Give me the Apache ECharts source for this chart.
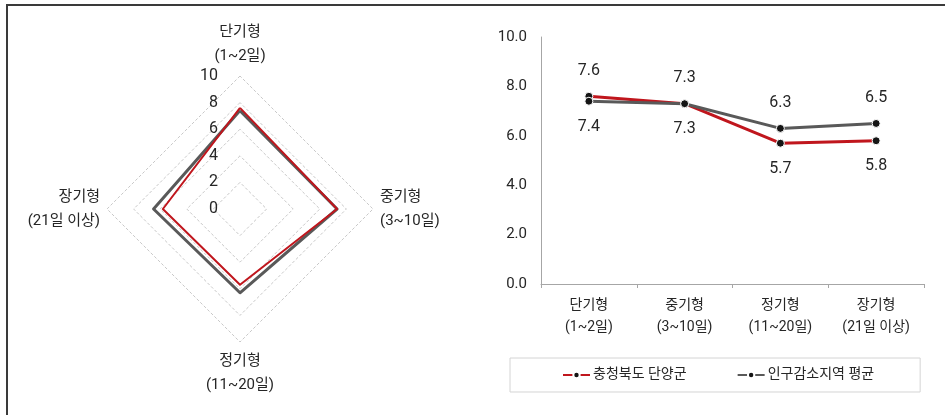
<!DOCTYPE html>
<html>
<head>
<meta charset="utf-8">
<script src="https://cdn.jsdelivr.net/npm/echarts@6/dist/echarts.min.js"></script>
<style>
  html, body { margin: 0; padding: 0; background: #fff; }
  #chart { width: 945px; height: 415px; }
</style>
</head>
<body>
<div id="chart"></div>
<script>
// Stay-length types (categories)
const categories = ['단기형\n(1~2일)', '중기형\n(3~10일)', '정기형\n(11~20일)', '장기형\n(21일 이상)'];
// Series
const seriesNames = ['충청북도 단양군', '인구감소지역 평균'];
const danyang = [7.6, 7.3, 5.7, 5.8];
const regionAvg = [7.4, 7.3, 6.3, 6.5];
// Label placement for each point (above / below the marker)
const danyangLabelPos = ['top', 'top', 'bottom', 'bottom'];
const regionAvgLabelPos = ['bottom', 'bottom', 'top', 'top'];
// Axis ranges
const radarMax = 10;
const lineMax = 10;
const tickStep = 2;

const RED = '#c0161d';
const GRAY = '#595959';
const FONT = 'Roboto, "Noto Sans CJK KR", sans-serif';
const TEXT = '#262626';

// Radar axes run counter-clockwise, so walk the categories in reverse
// after the first one to lay them out clockwise from the top.
const radarOrder = [0, 3, 2, 1];
const byRadarOrder = arr => radarOrder.map(i => arr[i]);

const chart = echarts.init(document.getElementById('chart'), null, { renderer: 'canvas' });

function pointData(values, positions) {
  return values.map((v, i) => ({
    value: v,
    label: { position: positions[i] }
  }));
}

const indicators = byRadarOrder(categories).map((c, i) => {
  const ind = { name: c, max: radarMax, min: 0 };
  if (i === 0) {
    ind.axisLabel = {
      show: true, color: TEXT, fontSize: 16, fontFamily: FONT, margin: 22,
      showMinLabel: true, showMaxLabel: true
    };
  }
  return ind;
});

const option = {
  animation: false,
  textStyle: { fontFamily: FONT },
  graphic: [
    { type: 'line', shape: { x1: 7, y1: 5, x2: 945, y2: 5 }, style: { stroke: '#3a3a3a', lineWidth: 2 } },
    { type: 'line', shape: { x1: 7, y1: 4, x2: 7, y2: 415 }, style: { stroke: '#3a3a3a', lineWidth: 2 } }
  ],
  radar: {
    center: [240, 209],
    radius: 133,
    startAngle: 90,
    shape: 'polygon',
    splitNumber: radarMax / tickStep,
    indicator: indicators,
    axisName: {
      color: TEXT, fontSize: 15, lineHeight: 24, fontFamily: FONT
    },
    nameGap: 7,
    axisLine: { show: false },
    axisTick: { show: false },
    axisLabel: { show: false },
    splitLine: { lineStyle: { color: '#c8c8c8', type: [3, 2], width: 1 } },
    splitArea: { show: false }
  },
  grid: { left: 541, right: 21, top: 37, bottom: 131, containLabel: false },
  xAxis: {
    type: 'category',
    data: categories,
    boundaryGap: true,
    axisLine: { lineStyle: { color: '#a6a6a6', width: 1 } },
    axisTick: { show: true, length: 4, lineStyle: { color: '#a6a6a6' } },
    axisLabel: { color: TEXT, fontSize: 14, lineHeight: 22, margin: 10, fontFamily: FONT }
  },
  yAxis: {
    type: 'value',
    min: 0, max: lineMax, interval: tickStep,
    axisLine: { show: true, lineStyle: { color: '#a6a6a6', width: 1 } },
    axisTick: { show: false },
    splitLine: { show: false },
    axisLabel: {
      color: TEXT, fontSize: 15, margin: 14, fontFamily: FONT,
      formatter: v => v.toFixed(1)
    }
  },
  legend: {
    left: 510, top: 358,
    padding: [10, 46, 10, 52],
    itemGap: 50,
    itemWidth: 27, itemHeight: 8,
    borderColor: '#d4d4d4', borderWidth: 1,
    textStyle: { color: TEXT, fontSize: 14, fontFamily: FONT, padding: [0, 0, 0, -2] },
    data: seriesNames
  },
  series: [
    {
      type: 'radar',
      z: 2,
      symbol: 'none',
      silent: true,
      data: [
        { name: seriesNames[1], value: byRadarOrder(regionAvg), lineStyle: { color: GRAY, width: 3 } },
        { name: seriesNames[0], value: byRadarOrder(danyang), lineStyle: { color: RED, width: 2 } }
      ]
    },
    {
      name: seriesNames[0],
      type: 'line',
      data: pointData(danyang, danyangLabelPos),
      color: RED,
      lineStyle: { color: RED, width: 3 },
      symbol: 'circle', symbolSize: 8,
      itemStyle: { color: '#151515', borderColor: '#fff', borderWidth: 1 },
      label: {
        show: true, distance: 13, color: TEXT, fontSize: 16, fontFamily: FONT,
        formatter: p => p.value.toFixed(1)
      },
      z: 3
    },
    {
      name: seriesNames[1],
      type: 'line',
      data: pointData(regionAvg, regionAvgLabelPos),
      color: GRAY,
      lineStyle: { color: GRAY, width: 3 },
      symbol: 'circle', symbolSize: 8,
      itemStyle: { color: '#151515', borderColor: '#fff', borderWidth: 1 },
      label: {
        show: true, distance: 13, color: TEXT, fontSize: 16, fontFamily: FONT,
        formatter: p => p.value.toFixed(1)
      },
      z: 3
    }
  ]
};

chart.setOption(option);
</script>
</body>
</html>
